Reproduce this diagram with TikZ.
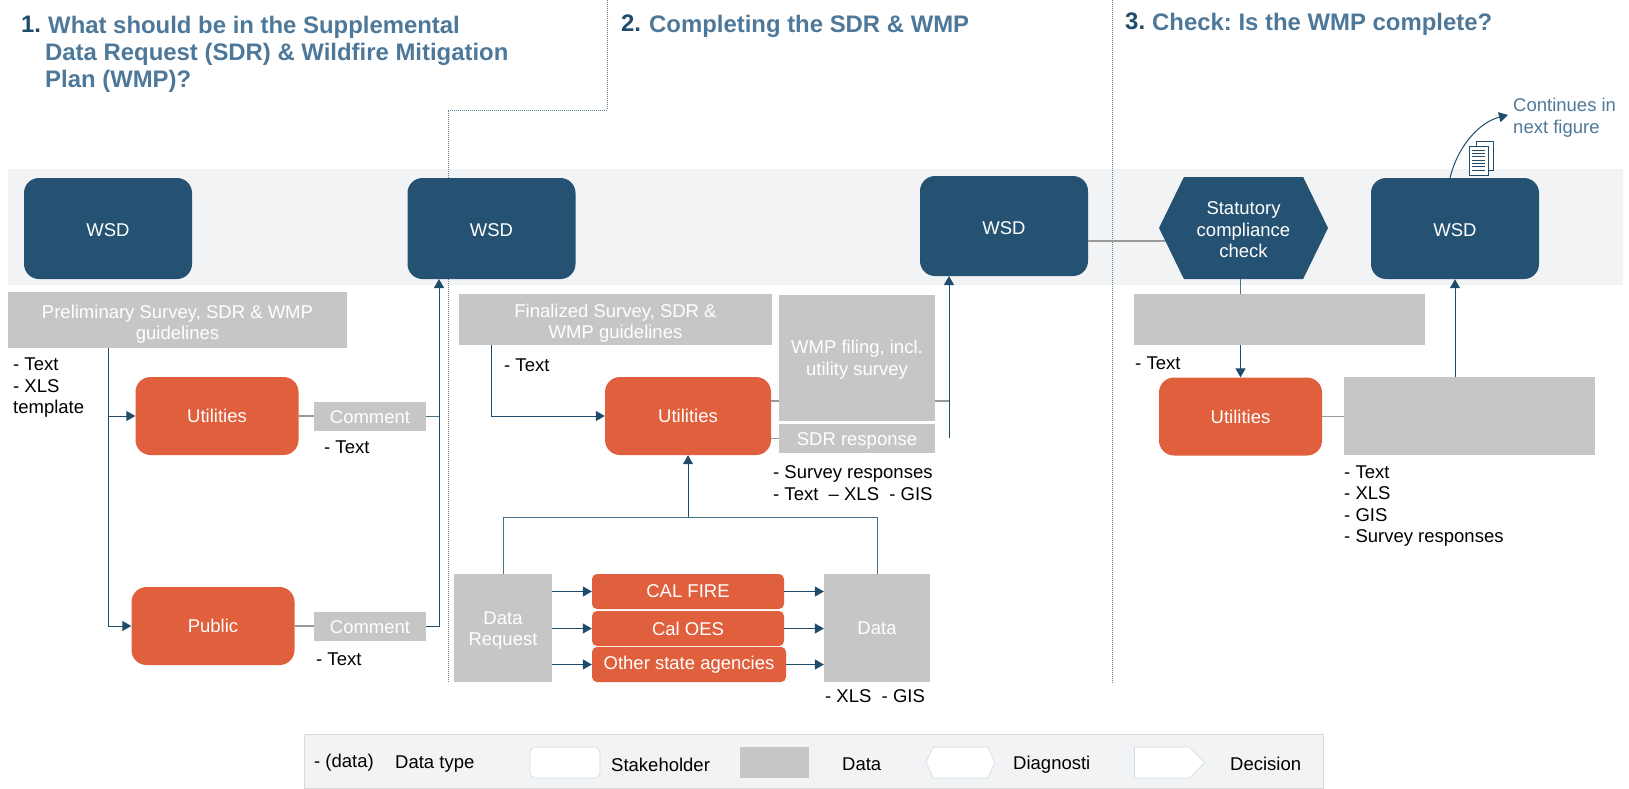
\documentclass[tikz,border=0pt]{standalone}
\usepackage{fontspec}
\setmainfont{Liberation Sans}
\frenchspacing
\usetikzlibrary{arrows.meta, shapes.symbols}
\definecolor{wsdblue}{HTML}{255272}
\definecolor{flowblue}{HTML}{1F4C6A}
\definecolor{headblue}{HTML}{4D7899}
\definecolor{stakeorange}{HTML}{E05F3C}
\definecolor{datagrey}{HTML}{C6C6C6}
\definecolor{bandgrey}{HTML}{F2F3F5}
\newcommand{\dropline}[1]{\rule{0pt}{#1pt}}
\tikzset{
    every node/.style={font=\fontsize{18.5}{21.5}\selectfont, inner sep=0pt, align=center},
    boxsize/.style 2 args={minimum width=#1pt, minimum height=#2pt},
    wsdbox/.style={fill=wsdblue, text=white, rounded corners=15pt, boxsize={168}{101}},
    stakebox/.style={fill=stakeorange, text=white, rounded corners=15pt, boxsize={163}{78}},
    agencybox/.style={fill=stakeorange, text=white, rounded corners=5pt},
    databox/.style={fill=datagrey, text=white},
    label/.style={anchor=west, align=left, text=black},
    head/.style={anchor=north west, align=left, text=headblue, font=\fontsize{23.9}{27}\selectfont\bfseries},
    headnum/.style={anchor=north west, text=flowblue, font=\fontsize{23.9}{27}\selectfont\bfseries},
    flow/.style={draw=flowblue, line width=1pt, -{Triangle[length=9pt, width=10pt]}},
    flowline/.style={draw=flowblue!80!white, line width=1pt},
    greyline/.style={draw=gray!80, line width=1.2pt},
    divider/.style={draw=flowblue!70!white, line width=1pt, densely dotted},
    keyshape/.style={fill=white, draw=flowblue!20!white, line width=.6pt},
}

\begin{document}
\begin{tikzpicture}[x=1pt, y=-1pt]
    \useasboundingbox (0,0) rectangle (1629,788);

    % lanes
    \node[fill=bandgrey, boxsize={1615}{116}] (band) at (815.5,227) {};
    \draw[divider] (607,0) -- (607,110) -- (448,110) -- (448,683);
    \draw[divider] (1112.5,0) -- (1112.5,683);

    % headings
    \node[headnum] (numone) at (21,16) {1.};
    \node[head] (headone) at (45,16) {\hspace*{3pt}What should be in the Supplemental\\Data Request (SDR) \& Wildfire Mitigation\\Plan (WMP)?};
    \node[headnum] (numtwo) at (621,15) {2.};
    \node[head] (headtwo) at (649,15) {Completing the SDR \& WMP};
    \node[headnum] (numthree) at (1125,13) {3.};
    \node[head] (headthree) at (1152,13) {Check: Is the WMP complete?};

    % stakeholders
    \node[wsdbox] (wsdone) at (108,228.5) {\dropline{17}WSD};
    \node[wsdbox] (wsdtwo) at (491.5,228.5) {\dropline{17}WSD};
    \node[wsdbox, boxsize={168}{100}] (wsdthree) at (1004,226) {\dropline{17}WSD};
    \node[wsdbox] (wsdfour) at (1455,228.5) {\dropline{17}WSD};
    \node[signal, signal to=east and west, signal pointer angle=128, fill=wsdblue, text=white, boxsize={169}{102}] (hexcheck) at (1243.5,228) {\dropline{17}Statutory\\compliance\\check};
    \node[stakebox] (utilone) at (217,416) {Utilities};
    \node[stakebox] (public) at (213,626) {Public};
    \node[stakebox, boxsize={166}{78}] (utiltwo) at (688,416) {Utilities};
    \node[stakebox] (utilthree) at (1240.5,416.5) {Utilities};
    \node[agencybox, boxsize={192}{35}] (calfire) at (688,591.5) {CAL FIRE};
    \node[agencybox, boxsize={192}{35}] (caloes) at (688,628.5) {Cal OES};
    \node[agencybox, boxsize={194}{35}] (other) at (689,664.5) {Other state agencies};

    % data
    \node[databox, boxsize={339}{56}] (prelim) at (177.5,320) {\dropline{22}Preliminary Survey, SDR \& WMP\\guidelines};
    \node[databox, boxsize={112}{29}] (commentone) at (370,416) {\dropline{15}Comment};
    \node[databox, boxsize={112}{29}] (commenttwo) at (370,626) {\dropline{15}Comment};
    \node[databox, boxsize={313}{51}] (final) at (615.5,319.5) {\dropline{21}Finalized Survey, SDR \&\\WMP guidelines};
    \node[databox, boxsize={156}{126}] (wmp) at (857,358) {\dropline{17}WMP filing, incl.\\utility survey};
    \node[databox, boxsize={156}{29}] (sdr) at (857,438.5) {\dropline{18}SDR response};
    \node[databox, boxsize={98}{108}] (request) at (503,628) {\dropline{18}Data\\Request};
    \node[databox, boxsize={106}{108}] (agencydata) at (877,628) {Data};
    \node[databox, boxsize={291}{51}] (checkdata) at (1279.5,319.5) {};
    \node[databox, boxsize={251}{78}] (resp) at (1469.5,416) {};

    % data types
    \node[label] (lblprelim) at (13,388) {- Text\\- XLS\\template};
    \node[label] (lblcommentone) at (324,447) {- Text};
    \node[label] (lblcommenttwo) at (316,659) {- Text};
    \node[label] (lblfinal) at (504,365) {- Text};
    \node[label] (lblsdr) at (773,483) {- Survey responses\\- Text\ \ – XLS\ \ - GIS};
    \node[label] (lbldata) at (825,696) {- XLS\ \ - GIS};
    \node[label] (lblcheck) at (1135,363) {- Text};
    \node[label] (lblresp) at (1344,506) {- Text\\- XLS\\- GIS\\- Survey responses};
    \node[label, text=headblue] (nextfig) at (1513,117.5) {Continues in\\next figure};

    % section 1
    \coordinate (trunk) at (108,348);
    \coordinate (wsdtwoin) at (439,279);
    \draw[flow] (trunk) |- (utilone.west);
    \draw[flow] (trunk) |- (public.west);
    \draw[greyline] (utilone.east) -- (commentone.west);
    \draw[greyline] (public.east) -- (commenttwo.west);
    \draw[flowline] (commentone.east) -- (commentone.east -| wsdtwoin);
    \draw[flow] (commenttwo.east) -| (wsdtwoin);

    % section 2
    \coordinate (trunktwo) at (491,345);
    \coordinate (merge) at (688,517);
    \coordinate (sdrout) at (949,438);
    \coordinate (wsdthreein) at (949,276);
    \draw[flow] (trunktwo) |- (utiltwo.west);
    \draw[flowline] (request.north) |- (merge) -| (agencydata.north);
    \draw[flow] (merge) -- (utiltwo.south);
    \foreach \agency in {calfire, caloes, other} {
        \draw[flow] (\agency.west -| request.east) -- (\agency.west);
        \draw[flow] (\agency.east) -- (\agency.east -| agencydata.west);
    }
    \draw[greyline] (utiltwo.east |- wmp.center) ++(0,43) -- ++(8,0);
    \draw[greyline] (utiltwo.east |- sdr.west) -- (sdr.west);
    \draw[greyline] (wmp.east) ++(0,43) -- ++(14,0);
    \draw[flow] (sdrout) -- (wsdthreein);

    % section 3
    \draw[greyline] (wsdthree.east |- 0,241) -- (1165,241);
    \draw[flowline] (utilthree |- hexcheck.south) -- (utilthree |- checkdata.north);
    \draw[flow] (utilthree |- checkdata.south) -- (utilthree.north);
    \draw[greyline] (utilthree.east) -- (utilthree.east -| resp.west);
    \draw[flow] (wsdfour |- resp.north) -- (wsdfour.south);
    \coordinate (curveend) at (1508,115);
    \draw[flow] (1450,178) .. controls (1458,145) and (1480,122) .. (curveend);

    % document
    \draw[flowblue, fill=white, line width=.6pt] (1476,141) rectangle (1493,170);
    \draw[flowblue, fill=white, line width=.8pt] (1469,146) rectangle (1488,175);
    \foreach \ypos in {150,153.3,...,171} {
        \draw[flowblue, line width=.6pt] (1472,\ypos) -- (1485,\ypos);
    }

    % legend
    \node[fill=bandgrey, draw=gray!30, line width=.8pt, boxsize={1019}{54}] (legend) at (813.5,761) {};
    \node[label] (keydash) at (314,763) {- (data)};
    \node[label] (keytype) at (395,764) {Data type};
    \node[keyshape, rounded corners=6pt, boxsize={70}{31}] (keystake) at (565,762.5) {};
    \node[label] (keystaketext) at (611,765) {Stakeholder};
    \node[fill=datagrey, boxsize={69}{31}] (keydata) at (774.5,762.5) {};
    \node[label] (keydatatext) at (842,764) {Data};
    \node[keyshape, signal, signal to=east and west, signal pointer angle=130, boxsize={69}{31}] (keydiag) at (960.5,762.5) {};
    \node[label] (keydiagtext) at (1013,765) {Diagnosti};
    \node[keyshape, signal, signal to=east, signal pointer angle=92, boxsize={70}{31}] (keydecide) at (1162,762.5) {};
    \node[label] (keydecidetext) at (1230,764) {Decision};
\end{tikzpicture}
\end{document}
